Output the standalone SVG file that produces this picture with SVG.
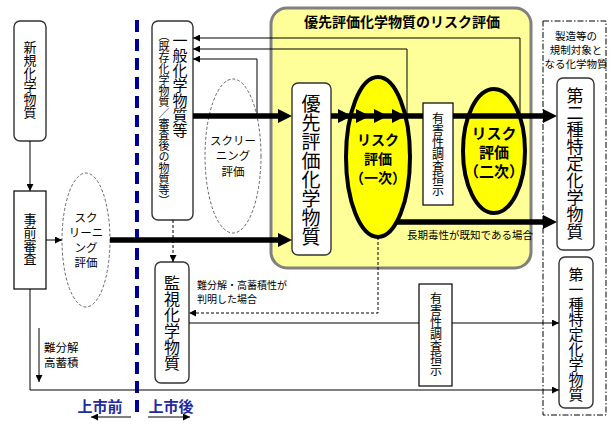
<svg xmlns="http://www.w3.org/2000/svg" width="615" height="428" viewBox="0 0 615 428">
<defs>
<style>
text{font-family:"Noto Sans CJK JP","Noto Sans",sans-serif;fill:#000}
.v{writing-mode:vertical-rl;text-anchor:middle}
.box{fill:#fff;stroke:#000;stroke-width:1.2}
.rbox{fill:#fff;stroke:#333;stroke-width:1.4}
.thin{fill:none;stroke:#000;stroke-width:1}
.dash{fill:none;stroke:#000;stroke-width:1;stroke-dasharray:3,2}
.thick{fill:none;stroke:#000;stroke-width:5.5}
.scr{fill:#fff;stroke:#555;stroke-width:0.9;stroke-dasharray:3,2}
.risk{fill:#ffff00;stroke:#000;stroke-width:4}
.rt{font-size:14px;font-weight:bold;text-anchor:middle}
.sm{font-size:10.5px}
.blue{fill:#1f2a9c;font-size:15px;font-weight:bold}
</style>
<marker id="ah" viewBox="0 0 7 7" refX="7" refY="3.5" markerWidth="7" markerHeight="7" markerUnits="userSpaceOnUse" orient="auto"><path d="M0,0L7,3.5L0,7z" fill="#000"/></marker>
<marker id="ahb" viewBox="0 0 14 14" refX="4" refY="7" markerWidth="14" markerHeight="14" markerUnits="userSpaceOnUse" orient="auto"><path d="M0,0L14,7L0,14z" fill="#000"/></marker>
</defs>
<rect width="615" height="428" fill="#fff"/>

<g id="n-regulated">
<rect x="543" y="21" width="63" height="394" fill="none" stroke="#000" stroke-width="1" stroke-dasharray="6,2,1.5,2"/>
<text class="sm" text-anchor="middle"><tspan x="576" y="40">製造等の</tspan><tspan x="576" y="54">規制対象と</tspan><tspan x="576" y="68">なる化学物質</tspan></text>
</g>

<g id="divider">
<line x1="137" y1="20" x2="137" y2="418" stroke="#000099" stroke-width="4" stroke-dasharray="12,7"/>
<text class="blue" x="100" y="412" text-anchor="middle">上市前</text>
<text class="blue" x="171" y="412" text-anchor="middle">上市後</text>
<line x1="131" y1="417" x2="91" y2="417" stroke="#000" stroke-width="1" marker-end="url(#ah)"/>
<line x1="148" y1="417" x2="190" y2="417" stroke="#000" stroke-width="1" marker-end="url(#ah)"/>
</g>

<g id="n-priority-area">
<rect x="271" y="8" width="260" height="260" rx="16" fill="#ffff99" stroke="#808080" stroke-width="3"/>
<text x="402" y="27" text-anchor="middle" style="font-size:14px;font-weight:bold">優先評価化学物質のリスク評価</text>
</g>

<g id="n-new">
<rect class="rbox" x="14" y="21" width="32" height="120" rx="6"/>
<text class="v" x="30" y="80" style="font-size:13px">新規化学物質</text>
</g>

<g id="n-jizen">
<rect class="box" x="14" y="191" width="32" height="98"/>
<text class="v" x="30" y="239" style="font-size:13px">事前審査</text>
</g>

<g id="n-scr1">
<ellipse class="scr" cx="86" cy="240" rx="24" ry="67"/>
<text text-anchor="middle" style="font-size:11.5px"><tspan x="86" y="222">スク</tspan><tspan x="86" y="237">リーニ</tspan><tspan x="86" y="252">ング</tspan><tspan x="86" y="267">評価</tspan></text>
</g>

<g id="n-ippan">
<rect class="rbox" x="152" y="21" width="41" height="199" rx="6"/>
<text class="v" x="180" y="85" style="font-size:15px">一般化学物質等</text>
<text class="v" x="164" y="118" style="font-size:11px">（既存化学物質／審査後の物質等）</text>
</g>

<g id="n-scr2">
<ellipse class="scr" cx="233" cy="156" rx="28" ry="77"/>
<text text-anchor="middle" style="font-size:11.5px"><tspan x="233" y="145">スクリー</tspan><tspan x="233" y="160">ニング</tspan><tspan x="233" y="176">評価</tspan></text>
</g>

<g id="n-yusen">
<rect class="rbox" x="292" y="83" width="39" height="172" rx="6"/>
<text class="v" x="311" y="170" style="font-size:19px">優先評価化学物質</text>
</g>

<g id="n-risk1">
<ellipse class="risk" cx="378" cy="157" rx="32" ry="80"/>
</g>
<g id="n-risk2">
<ellipse class="risk" cx="494" cy="151" rx="31" ry="62"/>
</g>

<g id="n-kanshi">
<rect class="rbox" x="155" y="262" width="34" height="121" rx="6"/>
<text class="v" x="172" y="323" style="font-size:16px">監視化学物質</text>
</g>

<g id="n-dai2">
<rect class="rbox" x="557" y="78" width="37" height="172" rx="6"/>
<text class="v" x="575" y="164" style="font-size:17px">第二種特定化学物質</text>
</g>

<g id="n-dai1">
<rect class="rbox" x="559" y="257" width="34" height="151" rx="6"/>
<text class="v" x="576" y="334" style="font-size:15px">第一種特定化学物質</text>
</g>

<g id="connectors">
<line class="thin" x1="30" y1="141" x2="30" y2="191" marker-end="url(#ah)"/>
<line class="thin" x1="46" y1="240" x2="62" y2="240" marker-end="url(#ah)"/>
<path class="thin" d="M30,289V390H559" marker-end="url(#ah)"/>
<line class="thin" x1="39" y1="328" x2="39" y2="382" marker-end="url(#ah)"/>
<path class="thin" d="M520,117V38H193" marker-end="url(#ah)"/>
<path class="thin" d="M407,118V49H193" marker-end="url(#ah)"/>
<path class="thin" d="M257,116V59H193" marker-end="url(#ah)"/>
<line class="dash" x1="173" y1="220" x2="173" y2="262" marker-end="url(#ah)"/>
<path class="dash" d="M378,237V313H189" marker-end="url(#ah)"/>
<path class="thin" d="M189,323H559" marker-end="url(#ah)"/>
<line class="thick" x1="110" y1="240" x2="282" y2="240" marker-end="url(#ahb)"/>
<line class="thick" x1="193" y1="116" x2="282" y2="116" marker-end="url(#ahb)"/>
<line class="thick" x1="331" y1="116" x2="547" y2="116" marker-end="url(#ahb)"/>
<path d="M338,109L352,116L338,123zM356,109L370,116L356,123zM374,109L388,116L374,123zM392,109L406,116L392,123z" fill="#000"/>
<line class="thick" x1="397" y1="222" x2="547" y2="222" marker-end="url(#ahb)"/>
</g>

<g id="n-yugai1">
<rect class="box" x="423" y="103" width="30" height="102"/>
<text class="v" x="438" y="154" style="font-size:12px">有害性調査指示</text>
</g>

<g id="n-yugai2">
<rect class="box" x="419" y="284" width="33" height="102"/>
<text class="v" x="436" y="334" style="font-size:12px">有害性調査指示</text>
</g>

<g id="labels">
<text class="rt"><tspan x="378" y="145">リスク</tspan><tspan x="378" y="164">評価</tspan><tspan x="378" y="183">（一次）</tspan></text>
<text class="rt" style="font-size:15px"><tspan x="494" y="139">リスク</tspan><tspan x="494" y="158">評価</tspan><tspan x="494" y="177">（二次）</tspan></text>
<text class="sm" x="407" y="239">長期毒性が既知である場合</text>
<text style="font-size:10px"><tspan x="197" y="289">難分解・高蓄積性が</tspan><tspan x="197" y="303">判明した場合</tspan></text>
<text style="font-size:11.5px"><tspan x="44" y="352">難分解</tspan><tspan x="44" y="367">高蓄積</tspan></text>
</g>
</svg>
